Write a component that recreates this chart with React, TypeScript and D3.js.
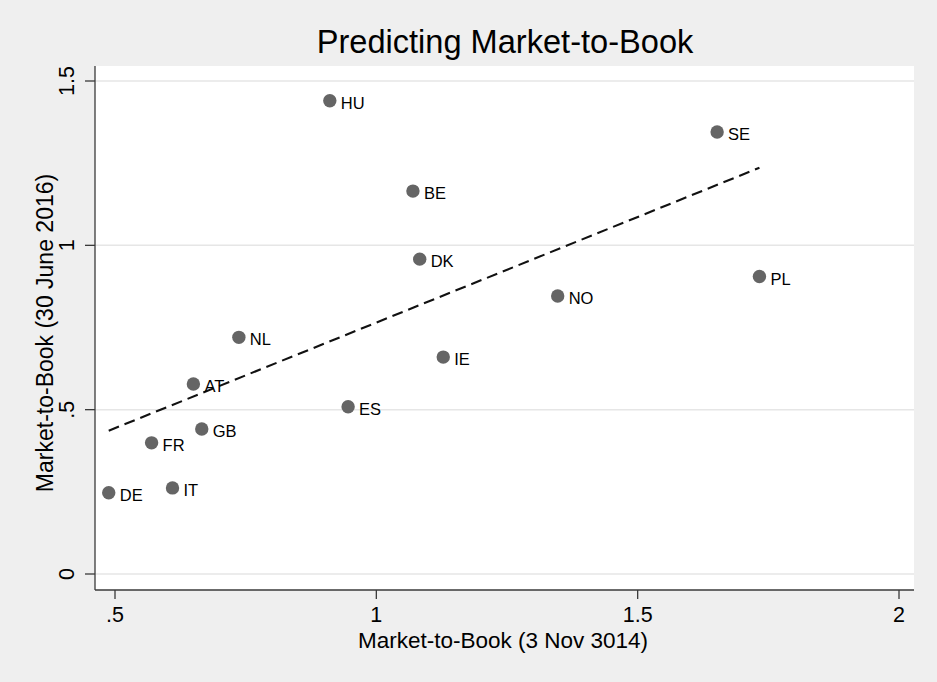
import React from "react";
import * as d3 from "d3";

const countries = ["HU", "SE", "BE", "DK", "PL", "NO", "NL", "IE", "AT", "ES", "GB", "FR", "IT", "DE"];
const mtb2014 = [0.911, 1.652, 1.070, 1.083, 1.733, 1.347, 0.737, 1.128, 0.650, 0.946, 0.666, 0.570, 0.610, 0.488];
const mtb2016 = [1.440, 1.345, 1.165, 0.958, 0.905, 0.846, 0.720, 0.660, 0.578, 0.509, 0.441, 0.399, 0.262, 0.247];
const fitX = [0.488, 1.733];
const fitY = [0.436, 1.236];
const xTicks = [0.5, 1, 1.5, 2];
const yTicks = [0, 0.5, 1, 1.5];
const xTickLabels = [".5", "1", "1.5", "2"];
const yTickLabels = ["0", ".5", "1", "1.5"];

const W = 937;
const H = 682;
const plot = { left: 95, right: 914, top: 66, bottom: 590 };
const FONT = "'Liberation Sans', Arial, Helvetica, sans-serif";

export default function App() {
  const x = d3.scaleLinear().domain([0.5, 2]).range([115, 899]);
  const y = d3.scaleLinear().domain([0, 1.5]).range([574, 81]);
  const line = d3
    .line<[number, number]>()
    .x((d) => x(d[0]))
    .y((d) => y(d[1]));
  const fitPts: [number, number][] = fitX.map((v, i) => [v, fitY[i]]);

  return (
    <svg
      width={W}
      height={H}
      style={{ position: "absolute", left: 0, top: 0, display: "block" }}
      fontFamily={FONT}
    >
      <rect x={0} y={0} width={W} height={H} fill="#efefef" />
      <rect
        x={plot.left}
        y={plot.top}
        width={plot.right - plot.left}
        height={plot.bottom - plot.top}
        fill="#ffffff"
      />
      {yTicks.map((t) => (
        <line
          key={"g" + t}
          x1={plot.left}
          x2={plot.right}
          y1={y(t)}
          y2={y(t)}
          stroke="#e6e6e6"
          strokeWidth={1.5}
        />
      ))}
      {/* axes */}
      <line x1={plot.left} x2={plot.left} y1={plot.top} y2={plot.bottom} stroke="#3a3a3a" strokeWidth={1.3} />
      <line x1={plot.left} x2={plot.right} y1={plot.bottom} y2={plot.bottom} stroke="#3a3a3a" strokeWidth={1.3} />
      {yTicks.map((t, i) => (
        <g key={"yt" + t}>
          <line x1={plot.left - 10} x2={plot.left} y1={y(t)} y2={y(t)} stroke="#3a3a3a" strokeWidth={1.3} />
          <text
            transform={`translate(${74},${y(t)}) rotate(-90)`}
            textAnchor="middle"
            fontSize={21.5}
            fill="#000"
          >
            {yTickLabels[i]}
          </text>
        </g>
      ))}
      {xTicks.map((t, i) => (
        <g key={"xt" + t}>
          <line x1={x(t)} x2={x(t)} y1={plot.bottom} y2={plot.bottom + 9} stroke="#3a3a3a" strokeWidth={1.3} />
          <text x={x(t)} y={622} textAnchor="middle" fontSize={21.5} fill="#000">
            {xTickLabels[i]}
          </text>
        </g>
      ))}
      {/* fit line */}
      <path d={line(fitPts) || ""} fill="none" stroke="#111" strokeWidth={2.1} strokeDasharray="11,6" />
      {/* points */}
      {countries.map((c, i) => (
        <g key={c}>
          <circle cx={x(mtb2014[i])} cy={y(mtb2016[i])} r={6.7} fill="#656565" />
          <text x={x(mtb2014[i]) + 11} y={y(mtb2016[i]) + 8} fontSize={16.5} fill="#000">
            {c}
          </text>
        </g>
      ))}
      {/* titles */}
      <text x={505} y={53} textAnchor="middle" fontSize={32.6} fill="#000">
        Predicting Market-to-Book
      </text>
      <text x={503} y={648} textAnchor="middle" fontSize={22.5} fill="#000">
        Market-to-Book (3 Nov 3014)
      </text>
      <text
        transform={`translate(${53},${333}) rotate(-90)`}
        textAnchor="middle"
        fontSize={23}
        fill="#000"
      >
        Market-to-Book (30 June 2016)
      </text>
    </svg>
  );
}
